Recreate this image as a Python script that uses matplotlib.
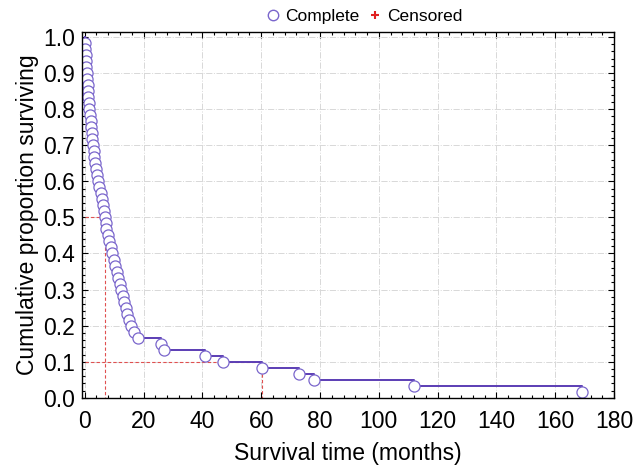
import numpy as np
import matplotlib.pyplot as plt
from matplotlib.lines import Line2D

plt.rcParams['font.family'] = ['Liberation Sans', 'DejaVu Sans']

# patients in the study and times (months) of each death
n_patients = 60
event_times = [0.1, 0.2, 0.3, 0.5, 0.6, 0.8,
               0.9, 1.0, 1.1, 1.2, 1.4, 1.5,
               1.7, 2.0, 2.2, 2.4, 2.6, 2.8,
               3.0, 3.3, 3.6, 3.9, 4.2, 4.5,
               5.0, 5.4, 5.8, 6.1, 6.4, 6.8,
               7.1, 7.4, 7.8, 8.3, 8.8, 9.3,
               9.9, 10.4, 10.9, 11.4, 11.9, 12.4,
               12.9, 13.4, 13.9, 14.4, 15.0, 15.7,
               16.6, 18.0,
               25.8, 26.9, 40.8, 47.0, 60.2, 72.9, 78.0, 112.0, 169.2]
median_time = 7.0
q10_time = 60.2

surv = 1 - np.arange(1, len(event_times) + 1) / n_patients
t_all = np.concatenate([[0], event_times])
s_all = np.concatenate([[1.0], surv])

fig = plt.figure(figsize=(6.39, 4.67), dpi=100)
ax = fig.add_axes([0.128, 0.148, 0.833, 0.783])

ax.grid(True, color='#d8d8d8', linestyle='-.', linewidth=0.7)
ax.set_axisbelow(True)

# reference lines for median and 10% survival
ref = dict(color='#e05050', linestyle='--', linewidth=0.8, dashes=(3, 2))
ax.plot([0, median_time, median_time], [0.5, 0.5, 0], **ref)
ax.plot([0, q10_time, q10_time], [0.1, 0.1, 0], **ref)

ax.step(t_all, s_all, where='post', color='#5b3db4', linewidth=1.4)
ax.plot(event_times, surv, 'o', markersize=8, markerfacecolor='white',
        markeredgecolor='#7a66cc', markeredgewidth=0.9)

ax.set_xlim(-1, 180)
ax.set_ylim(0, 1.013)
ax.set_xticks(np.arange(0, 181, 20))
ax.set_xticks(np.arange(0, 181, 4), minor=True)
ax.set_yticks(np.arange(0, 1.01, 0.1))
ax.set_yticks(np.arange(0, 1.01, 0.02), minor=True)
ax.set_yticklabels([f'{v:.1f}' for v in np.arange(0, 1.01, 0.1)])
ax.tick_params(which='both', direction='in', top=True, right=True,
               labelsize=16.5, width=0.8)
ax.tick_params(which='major', length=4, pad=5)
ax.tick_params(axis='x', which='major', pad=9)
ax.tick_params(which='minor', length=2.5)
for sp in ax.spines.values():
    sp.set_linewidth(1.0)

ax.set_xlabel('Survival time (months)', fontsize=16.5, labelpad=6)
ax.set_ylabel('Cumulative proportion surviving', fontsize=16.5, labelpad=3)

handles = [Line2D([], [], marker='o', linestyle='none', markersize=7.5,
                  markerfacecolor='white', markeredgecolor='#7a66cc'),
           Line2D([], [], marker='+', linestyle='none', markersize=6,
                  markeredgecolor='#e02020', markeredgewidth=1.5)]
fig.legend(handles, ['Complete', 'Censored'], loc='upper center',
           bbox_to_anchor=(0.568, 1.015), ncol=2, frameon=False,
           fontsize=12.5, handletextpad=0.1, columnspacing=0.3,
           handlelength=1.2)

fig.savefig('out.png', dpi=100)
